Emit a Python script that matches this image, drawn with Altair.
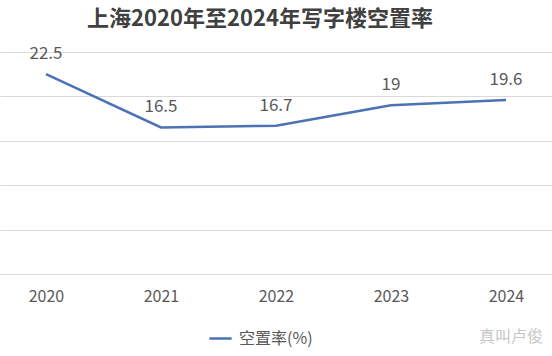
import altair as alt
import pandas as pd

years = ["2020", "2021", "2022", "2023", "2024"]
vacancy = [22.5, 16.5, 16.7, 19.0, 19.6]
labels = ["22.5", "16.5", "16.7", "19", "19.6"]
series_name = "空置率(%)"
title_text = "上海2020年至2024年写字楼空置率"
watermark = "真叫卢俊"

df = pd.DataFrame({"year": years, "value": vacancy, "label": labels, "series": series_name})

FONT = "Noto Sans CJK SC"

x = alt.X("year:O", scale=alt.Scale(type="point", padding=0.4),
          axis=alt.Axis(title=None, labelAngle=0, domain=False, ticks=False, grid=False,
                        labelFontSize=16, labelColor="#595959", labelFont=FONT, labelPadding=14))
y = alt.Y("value:Q", scale=alt.Scale(domain=[0, 25], nice=False),
          axis=alt.Axis(title=None, labels=False, ticks=False, domain=False,
                        values=[0, 5, 10, 15, 20, 25], gridColor="#d9d9d9", gridWidth=1))

line = alt.Chart(df).mark_line(strokeWidth=2.5).encode(
    x=x, y=y,
    color=alt.Color("series:N", scale=alt.Scale(range=["#4a72b4"]),
                    legend=alt.Legend(title=None, orient="none", legendX=208, legendY=274,
                                      labelFontSize=16, labelColor="#595959", labelFont=FONT,
                                      symbolType="stroke", symbolSize=500, symbolStrokeWidth=2.5,
                                      labelOffset=6))
)

text = alt.Chart(df).mark_text(fontSize=17, color="#595959", font=FONT, dy=-20).encode(
    x="year:O", y="value:Q", text="label:N"
)

wm = alt.Chart(pd.DataFrame({"t": [watermark]})).mark_text(
    fontSize=16, color="#c8c8c8", font=FONT, align="right", baseline="middle"
).encode(x=alt.value(543), y=alt.value(285), text="t:N")

chart = alt.layer(line, text, wm).properties(
    width=552, height=222,
    title=alt.TitleParams(title_text, fontSize=22, font=FONT, fontWeight="bold",
                          color="#404040", anchor="middle", offset=14, dx=-16),
    padding={"top": 52, "left": 0, "right": 0, "bottom": 82},
    autosize=alt.AutoSizeParams(type="none"),
).configure_view(stroke=None)

chart.save("out.html", embed_options={"renderer": "svg", "actions": False})
